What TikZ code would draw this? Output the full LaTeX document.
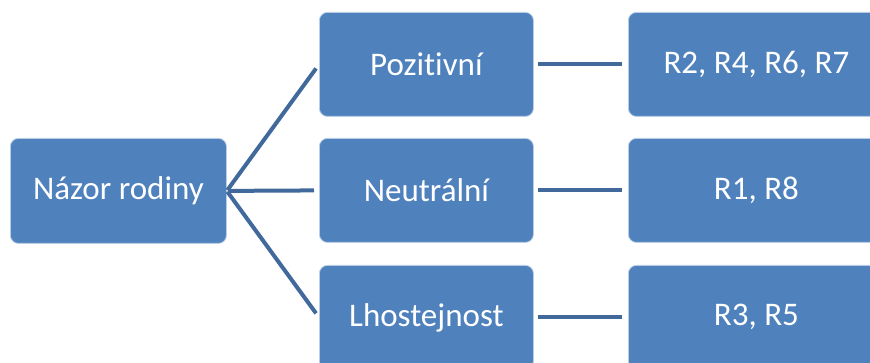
\documentclass[tikz,border=0pt]{standalone}
\usepackage{fontspec}
\setmainfont[Ligatures={NoCommon}]{Carlito}
\definecolor{boxblue}{HTML}{4F81BD}
\definecolor{linkblue}{HTML}{41699B}
\begin{document}
\begin{tikzpicture}[x=1pt,y=-1pt,
  box/.style={rectangle, rounded corners=8pt, fill=boxblue, draw=white!60!boxblue, line width=0.8pt,
    text=white, font=\fontsize{33}{40}\selectfont, inner sep=0pt, anchor=north west},
  link/.style={draw=linkblue, line width=4pt}]
\useasboundingbox (0,0) rectangle (870,363);
\begin{scope}
\clip (0,0) rectangle (870,363);
\node[box, minimum width=216pt, minimum height=105pt] (root) at (10,138) {Názor rodiny};
\node[box, minimum width=214pt, minimum height=104pt] (pos) at (319,12) {Pozitivní};
\node[box, minimum width=214pt, minimum height=104pt] (neu) at (319,138) {Neutrální};
\node[box, minimum width=214pt, minimum height=104pt] (lho) at (319,265) {Lhostejnost};
\node[box, minimum width=256pt, minimum height=104pt] (r1) at (628,12) {R2, R4, R6, R7};
\node[box, minimum width=256pt, minimum height=104pt] (r2) at (628,138) {R1, R8};
\node[box, minimum width=256pt, minimum height=104pt] (r3) at (628,265) {R3, R5};
\draw[link, shorten <=1pt, shorten >=5pt] (root.east) -- (pos.west);
\draw[link, shorten <=1pt, shorten >=5pt] (root.east) -- (neu.west);
\draw[link, shorten <=1pt, shorten >=5pt] (root.east) -- (lho.west);
\draw[link, shorten <=4pt, shorten >=6pt] (pos.east) -- (r1.west);
\draw[link, shorten <=4pt, shorten >=6pt] (neu.east) -- (r2.west);
\draw[link, shorten <=4pt, shorten >=6pt] (lho.east) -- (r3.west);
\end{scope}
\end{tikzpicture}
\end{document}
